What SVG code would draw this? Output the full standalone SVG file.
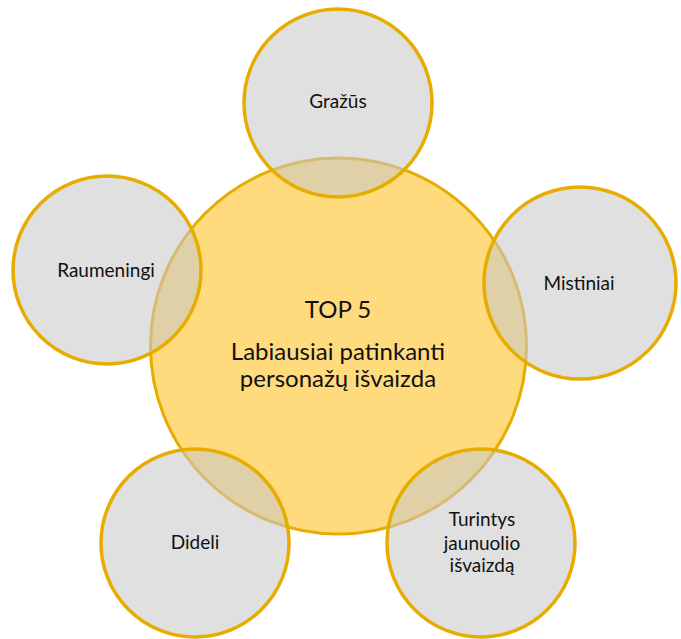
<svg xmlns="http://www.w3.org/2000/svg" width="681" height="639" viewBox="0 0 681 639">
<style>
.main{fill:#FFDB7E;stroke:#E6AD00;stroke-width:3}
.sat{fill:rgb(200,200,200);fill-opacity:0.56;stroke:#E6AD00;stroke-width:3.5}
text{font-family:"Lato","Liberation Sans",sans-serif;fill:#111;text-anchor:middle}
.s{font-size:19px}
.b{font-size:24px}
</style>
<rect width="681" height="639" fill="#fff"/>
<g id="center">
<circle class="main" cx="338.5" cy="346" r="188"/>
<text class="b" x="338" y="318">TOP 5</text>
<text class="b" x="338" y="360">Labiausiai patinkanti</text>
<text class="b" x="338" y="387">personažų išvaizda</text>
</g>
<g id="n-grazus">
<circle class="sat" cx="338" cy="103" r="94"/>
<text class="s" x="338" y="108">Gražūs</text>
</g>
<g id="n-raumeningi">
<circle class="sat" cx="107" cy="270" r="94"/>
<text class="s" x="106" y="277">Raumeningi</text>
</g>
<g id="n-mistiniai">
<circle class="sat" cx="580" cy="283" r="96"/>
<text class="s" x="579" y="290">Mistiniai</text>
</g>
<g id="n-dideli">
<circle class="sat" cx="195" cy="543" r="94"/>
<text class="s" x="195" y="549">Dideli</text>
</g>
<g id="n-turintys">
<circle class="sat" cx="481" cy="543" r="94"/>
<text class="s" x="482" y="526">Turintys</text>
<text class="s" x="482" y="550">jaunuolio</text>
<text class="s" x="482" y="572">išvaizdą</text>
</g>
<g id="connectors"></g>
</svg>
